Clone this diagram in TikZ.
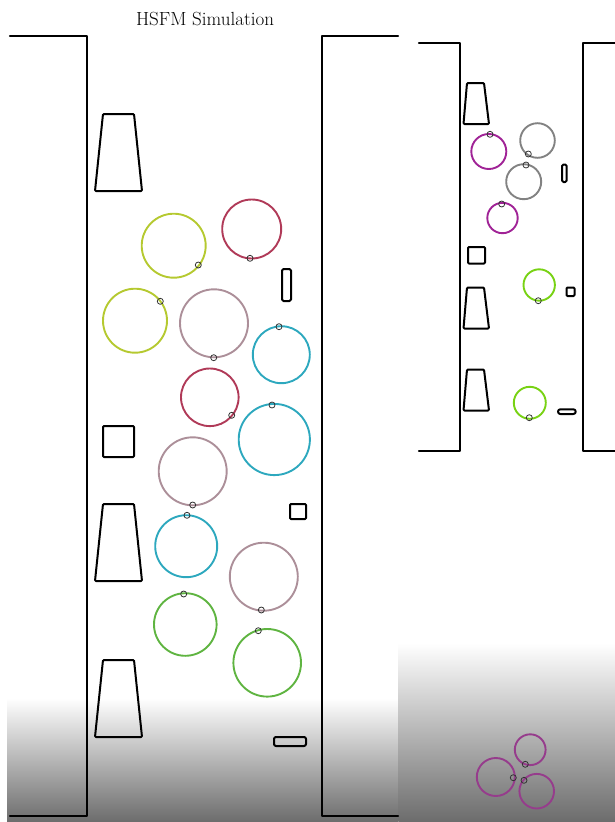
\documentclass[tikz,border=0pt]{standalone}
\usepackage{tikz}
\definecolor{ylw}{RGB}{181,201,48}
\definecolor{crim}{RGB}{176,58,88}
\definecolor{mauve}{RGB}{172,143,153}
\definecolor{cyn}{RGB}{45,168,190}
\definecolor{grn}{RGB}{95,180,65}
\definecolor{mag}{RGB}{160,35,150}
\definecolor{gry}{RGB}{130,130,130}
\definecolor{lime}{RGB}{120,210,20}
\definecolor{magd}{RGB}{150,60,140}
\definecolor{shadegray}{RGB}{108,108,108}
\tikzset{
  wall/.style={line width=2.2pt, line join=round, line cap=round},
  obst/.style={line width=2pt, line join=round, rounded corners=1pt},
  agent/.style={line width=1.9pt},
  mk/.style={line width=0.8pt, draw=black!80},
}
\begin{document}
\begin{tikzpicture}[x=1pt,y=-1pt]
\useasboundingbox (0,0) rectangle (615,822);
% gradients
\shade[top color=white, bottom color=shadegray] (7,698) rectangle (398.5,822);
\shade[top color=white, bottom color=shadegray] (398.5,643) rectangle (615,822);
% title
\node[font=\fontsize{19}{22}\selectfont] (title) at (205,19) {HSFM Simulation};
% left panel walls
\draw[wall] (10,36) -- (87,36) -- (87,816) -- (10,816);
\draw[wall] (398,36) -- (322,36) -- (322,816) -- (398,816);
% left panel obstacles
\foreach \ty in {114,504,660}{
  \draw[obst] (103,\ty) -- (134,\ty) -- (142,\ty+77) -- (95,\ty+77) -- cycle;
}
\draw[obst] (103,426) rectangle (134,457);
\draw[obst] (290,504) rectangle (306,519);
\draw[obst,rounded corners=1.5pt] (282,269) rectangle (291,301);
\draw[obst,rounded corners=2pt] (274,737) rectangle (306,746);
% left panel agents
\foreach \cx/\cy/\r/\mx/\my/\c in {
  173.7/245.7/32/198.3/265/ylw,
  251.7/229/29.5/250/258.3/crim,
  135/320.7/32/160.3/301.3/ylw,
  214/323.3/34/213.7/357.7/mauve,
  281.3/354.7/28.5/279/326.7/cyn,
  209.8/397.3/28.8/231.7/415.3/crim,
  274.3/439.5/35.6/272/405/cyn,
  192.7/471.3/34/192.7/505/mauve,
  186.2/546.2/31/187/515.3/cyn,
  263.8/576.7/34/261.3/610/mauve,
  185.3/624.5/31.3/183.7/594/grn,
  267.2/662.8/33.8/258.3/630.7/grn}{
  \draw[agent,draw=\c] (\cx,\cy) circle[radius=\r];
  \draw[mk] (\mx,\my) circle[radius=3];
}
% right panel walls
\draw[wall] (419,43) -- (460,43) -- (460,451) -- (419,451);
\draw[wall] (615,43) -- (583,43) -- (583,451) -- (615,451);
% right panel obstacles
\foreach \ty in {83,287.5,369.5}{
  \draw[obst] (467,\ty) -- (484,\ty) -- (489,\ty+41) -- (463.5,\ty+41) -- cycle;
}
\draw[obst] (468,247) rectangle (485,263.5);
\draw[obst,rounded corners=1.5pt] (562,164.5) rectangle (566.7,182);
\draw[obst] (566.5,287.5) rectangle (574.5,296);
\draw[obst,rounded corners=2.3pt] (558,409.3) rectangle (575.7,414);
% right panel agents
\foreach \cx/\cy/\r/\mx/\my/\c in {
  488.8/151.5/17.5/490/134.3/mag,
  537.5/140.5/17.3/528.3/154/gry,
  523.7/181.7/17.5/526/165/gry,
  502.5/218/15.2/501.7/204/mag,
  539.2/285/15.7/538.3/300.7/lime,
  529.8/402.8/16/529.3/417.7/lime,
  530.2/749.7/15.4/525.3/764.3/magd,
  495.8/777/19/513.3/777.7/magd,
  536.7/791.2/17.3/524/780.3/magd}{
  \draw[agent,draw=\c] (\cx,\cy) circle[radius=\r];
  \draw[mk] (\mx,\my) circle[radius=3];
}
\end{tikzpicture}
\end{document}
